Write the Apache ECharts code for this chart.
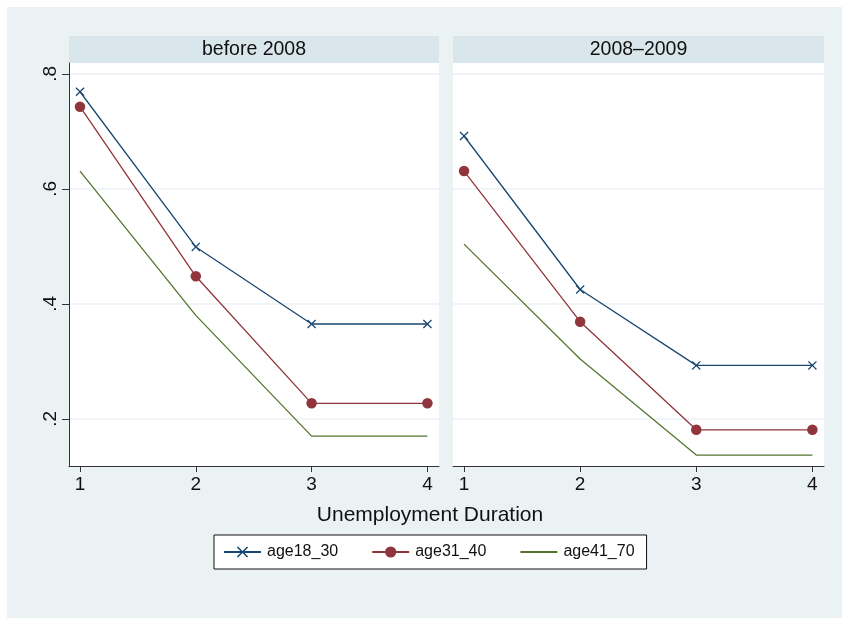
<!DOCTYPE html>
<html>
<head>
<meta charset="utf-8">
<script src="https://cdn.jsdelivr.net/npm/echarts@6/dist/echarts.min.js"></script>
<style>
  html, body { margin: 0; padding: 0; background: #ffffff; }
  #chart { width: 842px; height: 618px; }
</style>
</head>
<body>
<div id="chart"></div>
<script>
// Unemployment duration (x) vs. share, by age group, two periods
const durations = [1, 2, 3, 4];
const panelTitles = ['before 2008', '2008\u20132009'];
const seriesNames = ['age18_30', 'age31_40', 'age41_70'];

const before2008_age18_30 = [0.769, 0.499, 0.365, 0.365];
const before2008_age31_40 = [0.743, 0.448, 0.227, 0.227];
const before2008_age41_70 = [0.631, 0.380, 0.170, 0.170];

const crisis_age18_30 = [0.692, 0.425, 0.293, 0.293];
const crisis_age31_40 = [0.631, 0.369, 0.181, 0.181];
const crisis_age41_70 = [0.504, 0.304, 0.137, 0.137];

const yTicks = [0.2, 0.4, 0.6, 0.8];
const yTickLabels = ['.2', '.4', '.6', '.8'];
const xTitle = 'Unemployment Duration';

const FONT = '"Liberation Sans", Arial, Helvetica, sans-serif';
const colors = ['#1a476f', '#90353b', '#55752f'];
const crossPath = 'path://M0,1L1,0L5,4L9,0L10,1L6,5L10,9L9,10L5,6L1,10L0,9L4,5Z';
// invisible marker: the third group is drawn as a bare line
const noMarker = 'path://M0,0L0.001,0.001';

const panels = [
  [before2008_age18_30, before2008_age31_40, before2008_age41_70],
  [crisis_age18_30, crisis_age31_40, crisis_age41_70]
];

const pair = (ys) => durations.map((d, i) => [d, ys[i]]);

const grids = [
  { left: 69, right: 403, top: 63, bottom: 152 },
  { left: 453, right: 18, top: 63, bottom: 152 }
];

const xAxes = grids.map((g, i) => ({
  type: 'value', gridIndex: i, min: 0.905, max: 4.1,
  axisLine: { show: true, lineStyle: { color: '#333', width: 1 } },
  axisTick: { show: true, customValues: durations, length: 6, lineStyle: { color: '#333' } },
  axisLabel: { customValues: durations, color: '#111', fontSize: 19, fontFamily: FONT, margin: 9 },
  splitLine: { show: false }
}));

const yAxes = grids.map((g, i) => ({
  type: 'value', gridIndex: i, min: 0.118, max: 0.819,
  axisLine: { show: i === 0, lineStyle: { color: '#333', width: 1 } },
  axisTick: { show: i === 0, customValues: yTicks, length: 7, lineStyle: { color: '#333' } },
  axisLabel: {
    show: i === 0, customValues: yTicks, rotate: 90, color: '#111',
    fontSize: 19, fontFamily: FONT, margin: 9,
    formatter: (v) => yTickLabels[yTicks.findIndex(t => Math.abs(t - v) < 1e-6)] || ''
  },
  splitLine: { show: true, customValues: yTicks, lineStyle: { color: '#eaf2f3', width: 1.5 } }
}));

const series = [];
panels.forEach((groups, p) => {
  groups.forEach((ys, s) => {
    const base = {
      name: seriesNames[s], type: 'line', xAxisIndex: p, yAxisIndex: p,
      data: pair(ys), animation: false,
      lineStyle: { color: colors[s], width: 1.3 },
      itemStyle: { color: colors[s] },
      z: 10 - s
    };
    if (s === 0) { base.symbol = crossPath; base.symbolSize = 9; }
    else if (s === 1) { base.symbol = 'circle'; base.symbolSize = 10.5; }
    else { base.symbol = noMarker; base.symbolSize = 0; base.showSymbol = false; }
    series.push(base);
  });
});

const graphics = [
  { type: 'rect', z: -10, shape: { x: 7, y: 7, width: 835, height: 611 }, style: { fill: '#eaf2f3' } },
  { type: 'rect', z: -9, shape: { x: 69, y: 63, width: 370, height: 403 }, style: { fill: '#ffffff' } },
  { type: 'rect', z: -9, shape: { x: 453, y: 63, width: 371, height: 403 }, style: { fill: '#ffffff' } },
  { type: 'rect', z: -9, shape: { x: 69, y: 36, width: 370, height: 27 }, style: { fill: '#d9e6eb' } },
  { type: 'rect', z: -9, shape: { x: 453, y: 36, width: 371, height: 27 }, style: { fill: '#d9e6eb' } },
  { type: 'text', x: 254, y: 49.5, style: { text: panelTitles[0], font: '19.5px ' + FONT, fill: '#111', align: 'center', verticalAlign: 'middle' } },
  { type: 'text', x: 638.5, y: 49.5, style: { text: panelTitles[1], font: '19.5px ' + FONT, fill: '#111', align: 'center', verticalAlign: 'middle' } },
  { type: 'text', x: 430, y: 515, style: { text: xTitle, font: '21px ' + FONT, fill: '#111', align: 'center', verticalAlign: 'middle' } }
];

const chart = echarts.init(document.getElementById('chart'), null, { renderer: 'canvas' });
chart.setOption({
  animation: false,
  backgroundColor: '#ffffff',
  grid: grids,
  xAxis: xAxes,
  yAxis: yAxes,
  series: series,
  graphic: graphics,
  legend: {
    data: seriesNames,
    left: 214, top: 535,
    orient: 'horizontal',
    padding: [9, 12, 9, 9],
    itemWidth: 37, itemHeight: 14, itemGap: 33,
    backgroundColor: '#ffffff',
    borderColor: '#111', borderWidth: 1, borderRadius: 0,
    textStyle: { fontSize: 16, fontFamily: FONT, color: '#111', padding: [0, 0, 0, 1] }
  }
});
</script>
</body>
</html>
